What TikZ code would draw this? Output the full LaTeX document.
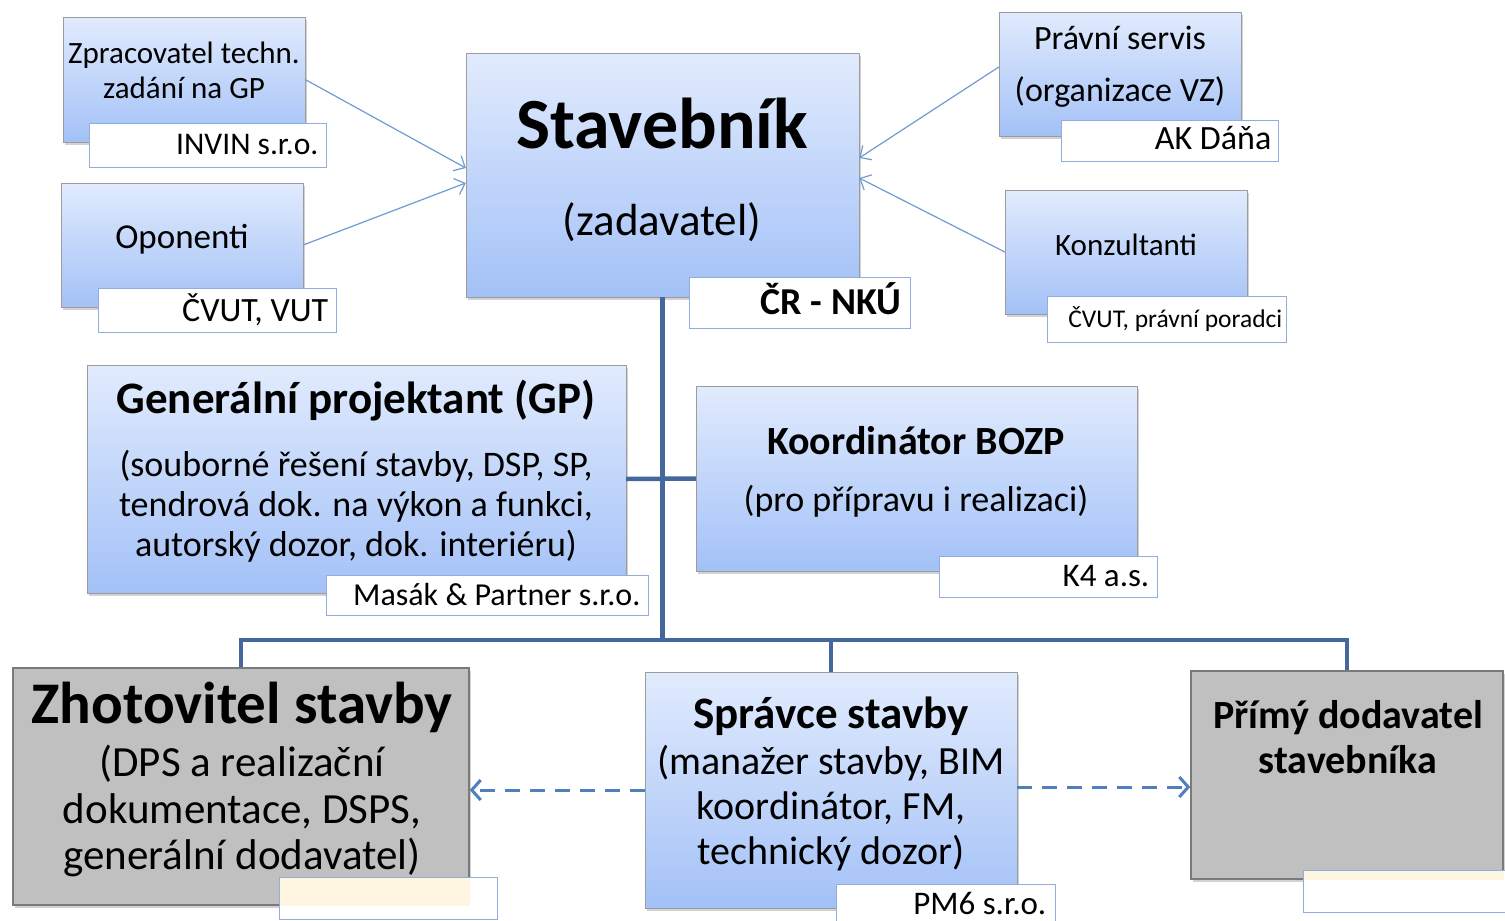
\documentclass[tikz,border=0pt]{standalone}
\usepackage{fontspec}
\setmainfont{Carlito}
\usetikzlibrary{positioning,shadows,arrows.meta}

\definecolor{boxtop}{HTML}{E1EBFD}
\definecolor{boxbot}{HTML}{A3C1F7}
\definecolor{boxline}{HTML}{9C9C9C}
\definecolor{grayfill}{HTML}{C0C0C0}
\definecolor{grayline}{HTML}{7A7A7A}
\definecolor{tagline}{HTML}{8FAEDB}
\definecolor{tagcream}{HTML}{FFF6E2}
\definecolor{busblue}{HTML}{44679C}
\definecolor{feedblue}{HTML}{6F9BD2}
\definecolor{dashblue}{HTML}{4F7FBC}

\begin{document}
\begin{tikzpicture}[x=1pt,y=-1pt,
  bluebox/.style={draw=boxline, top color=boxtop, bottom color=boxbot, inner sep=0pt,
    drop shadow={shadow xshift=2pt, shadow yshift=-3pt, opacity=.35}},
  graybox/.style={draw=grayline, fill=grayfill, line width=1.4pt, inner sep=0pt,
    drop shadow={shadow xshift=2pt, shadow yshift=-3pt, opacity=.35}},
  tagbox/.style={draw=tagline, fill=white, line width=1pt, inner sep=0pt},
  tagtext/.style={inner sep=0pt},
  busline/.style={draw=busblue, line width=4.5pt},
  feedline/.style={draw=feedblue, line width=1.2pt, -{Straight Barb[length=9pt,width=17pt]}},
  dasharrow/.style={draw=dashblue, line width=3pt, dash pattern=on 15pt off 10pt,
    -{Straight Barb[length=9pt,width=20pt,line width=3pt]}}]

% page
\fill[white] (0,0) rectangle (1505,921);
\useasboundingbox (0,0) rectangle (1505,921);

% Stavebnik (top middle)
\node[bluebox, minimum width=393, minimum height=244] (staveb) at (662.5,175) {};
\node[font=\fontsize{72}{80}\selectfont\bfseries] (stavebTitle) at (662,124) {Stavebník};
\node[font=\fontsize{45}{50}\selectfont] (stavebSub) at (662,222) {(zadavatel)};
\node[tagbox, minimum width=221, minimum height=51] (stavebTag) at (799.5,302.5) {};
\node[tagtext, left=9pt of stavebTag.east, yshift=4pt, font=\fontsize{38}{44}\selectfont\bfseries] {ČR - NKÚ};

% left column
\node[bluebox, minimum width=242, minimum height=125] (zprac) at (184,79.5) {};
\node[align=center, font=\fontsize{31}{35}\selectfont] (zpracText) at (184,70) {Zpracovatel techn.\\zadání na GP};
\node[tagbox, minimum width=237, minimum height=44] (zpracTag) at (207.5,145) {};
\node[tagtext, left=8pt of zpracTag.east, font=\fontsize{31.5}{36}\selectfont] {INVIN s.r.o.};

\node[bluebox, minimum width=242, minimum height=124] (opon) at (182,245) {};
\node[font=\fontsize{35}{40}\selectfont] (oponText) at (182,239) {Oponenti};
\node[tagbox, minimum width=238, minimum height=44] (oponTag) at (217,310) {};
\node[tagtext, left=8pt of oponTag.east, font=\fontsize{34}{38}\selectfont] {ČVUT, VUT};

% right column
\node[bluebox, minimum width=242, minimum height=124] (pravni) at (1120,74) {};
\node[align=center, font=\fontsize{34}{52}\selectfont] (pravniText) at (1120,67) {Právní servis\\(organizace VZ)};
\node[tagbox, minimum width=217, minimum height=41] (pravniTag) at (1169.5,140.5) {};
\node[tagtext, left=7pt of pravniTag.east, yshift=2pt, font=\fontsize{34}{40}\selectfont] {AK Dáňa};

\node[bluebox, minimum width=242, minimum height=124] (konzult) at (1126,252) {};
\node[font=\fontsize{31}{36}\selectfont] (konzultText) at (1126,245) {Konzultanti};
\node[tagbox, minimum width=239, minimum height=46] (konzultTag) at (1166.5,319) {};
\node[tagtext, left=4pt of konzultTag.east, font=\fontsize{25.5}{30}\selectfont] {ČVUT, právní poradci};

% GP and BOZP
\node[bluebox, minimum width=539, minimum height=228] (gp) at (356.5,479) {};
\node[font=\fontsize{45}{50}\selectfont\bfseries] (gpTitle) at (356,401) {Generální projektant (GP)};
\node[align=center, font=\fontsize{36}{40}\selectfont] (gpSub) at (356,506)
  {(souborné řešení stavby, DSP, SP,\\tendrová dok. na výkon a funkci,\\autorský dozor, dok. interiéru)};
\node[tagbox, minimum width=322, minimum height=40] (gpTag) at (487,595) {};
\node[tagtext, left=8pt of gpTag.east, font=\fontsize{32}{36}\selectfont] {Masák \& Partner s.r.o.};

\node[bluebox, minimum width=441, minimum height=185] (bozp) at (916.5,478.5) {};
\node[font=\fontsize{40}{46}\selectfont\bfseries] (bozpTitle) at (916,441) {Koordinátor BOZP};
\node[font=\fontsize{36}{42}\selectfont] (bozpSub) at (916,501) {(pro přípravu i realizaci)};
\node[tagbox, minimum width=218, minimum height=41] (bozpTag) at (1048,576.5) {};
\node[tagtext, left=8pt of bozpTag.east, font=\fontsize{33}{38}\selectfont] {K4 a.s.};

% bottom row
\node[graybox, minimum width=456, minimum height=237] (zhotov) at (241,786.5) {};
\node[font=\fontsize{59}{64}\selectfont\bfseries] (zhotovTitle) at (242,707) {Zhotovitel stavby};
\node[align=center, font=\fontsize{43}{46.5}\selectfont] (zhotovSub) at (242,811)
  {(DPS a realizační\\dokumentace, DSPS,\\generální dodavatel)};
\node[tagbox, minimum width=218, minimum height=42,
  path picture={\fill[tagcream] (path picture bounding box.north west) rectangle (zhotov.south east);}]
  (zhotovTag) at (388,898) {};

\node[bluebox, minimum width=372, minimum height=236] (spravce) at (831,790) {};
\node[font=\fontsize{45}{50}\selectfont\bfseries] (spravceTitle) at (831,716) {Správce stavby};
\node[align=center, font=\fontsize{40}{45}\selectfont] (spravceSub) at (831,808)
  {(manažer stavby, BIM\\koordinátor, FM,\\technický dozor)};
\node[tagbox, minimum width=219, minimum height=46] (spravceTag) at (945.5,907) {};
\node[tagtext, left=9pt of spravceTag.east, yshift=4pt, font=\fontsize{33}{38}\selectfont] {PM6 s.r.o.};

\node[graybox, minimum width=312, minimum height=208] (primy) at (1347,775) {};
\node[align=center, font=\fontsize{40}{45}\selectfont\bfseries] (primyText) at (1348,737) {Přímý dodavatel\\stavebníka};
\node[tagbox, minimum width=237, minimum height=42,
  path picture={\fill[tagcream] (path picture bounding box.north west) rectangle (primy.south east);}]
  (primyTag) at (1421.5,891) {};

% organisation lines
\coordinate (bus) at (662.5,640);
\draw[busline] (staveb.south) -- (bus);
\draw[busline] (gp.east) -- (bozp.west);
\draw[busline] (zhotov.north) |- (bus) -| (primy.north);
\draw[busline] (spravce.north) -- (spravce.north |- bus);

% advisers to the client
\draw[feedline] (zprac.east) -- ([yshift=7pt]staveb.west);
\draw[feedline] (opon.east) -- ([yshift=-8pt]staveb.west);
\draw[feedline] ([yshift=7pt]pravni.west) -- ([yshift=17pt]staveb.east);
\draw[feedline] (konzult.west) -- ([yshift=-3pt]staveb.east);

% site manager links
\draw[dasharrow] (spravce.west) -- (spravce.west -| zhotov.east);
\draw[dasharrow] ([yshift=3pt]spravce.east) -- ([yshift=3pt]spravce.east -| primy.west);

\end{tikzpicture}
\end{document}
